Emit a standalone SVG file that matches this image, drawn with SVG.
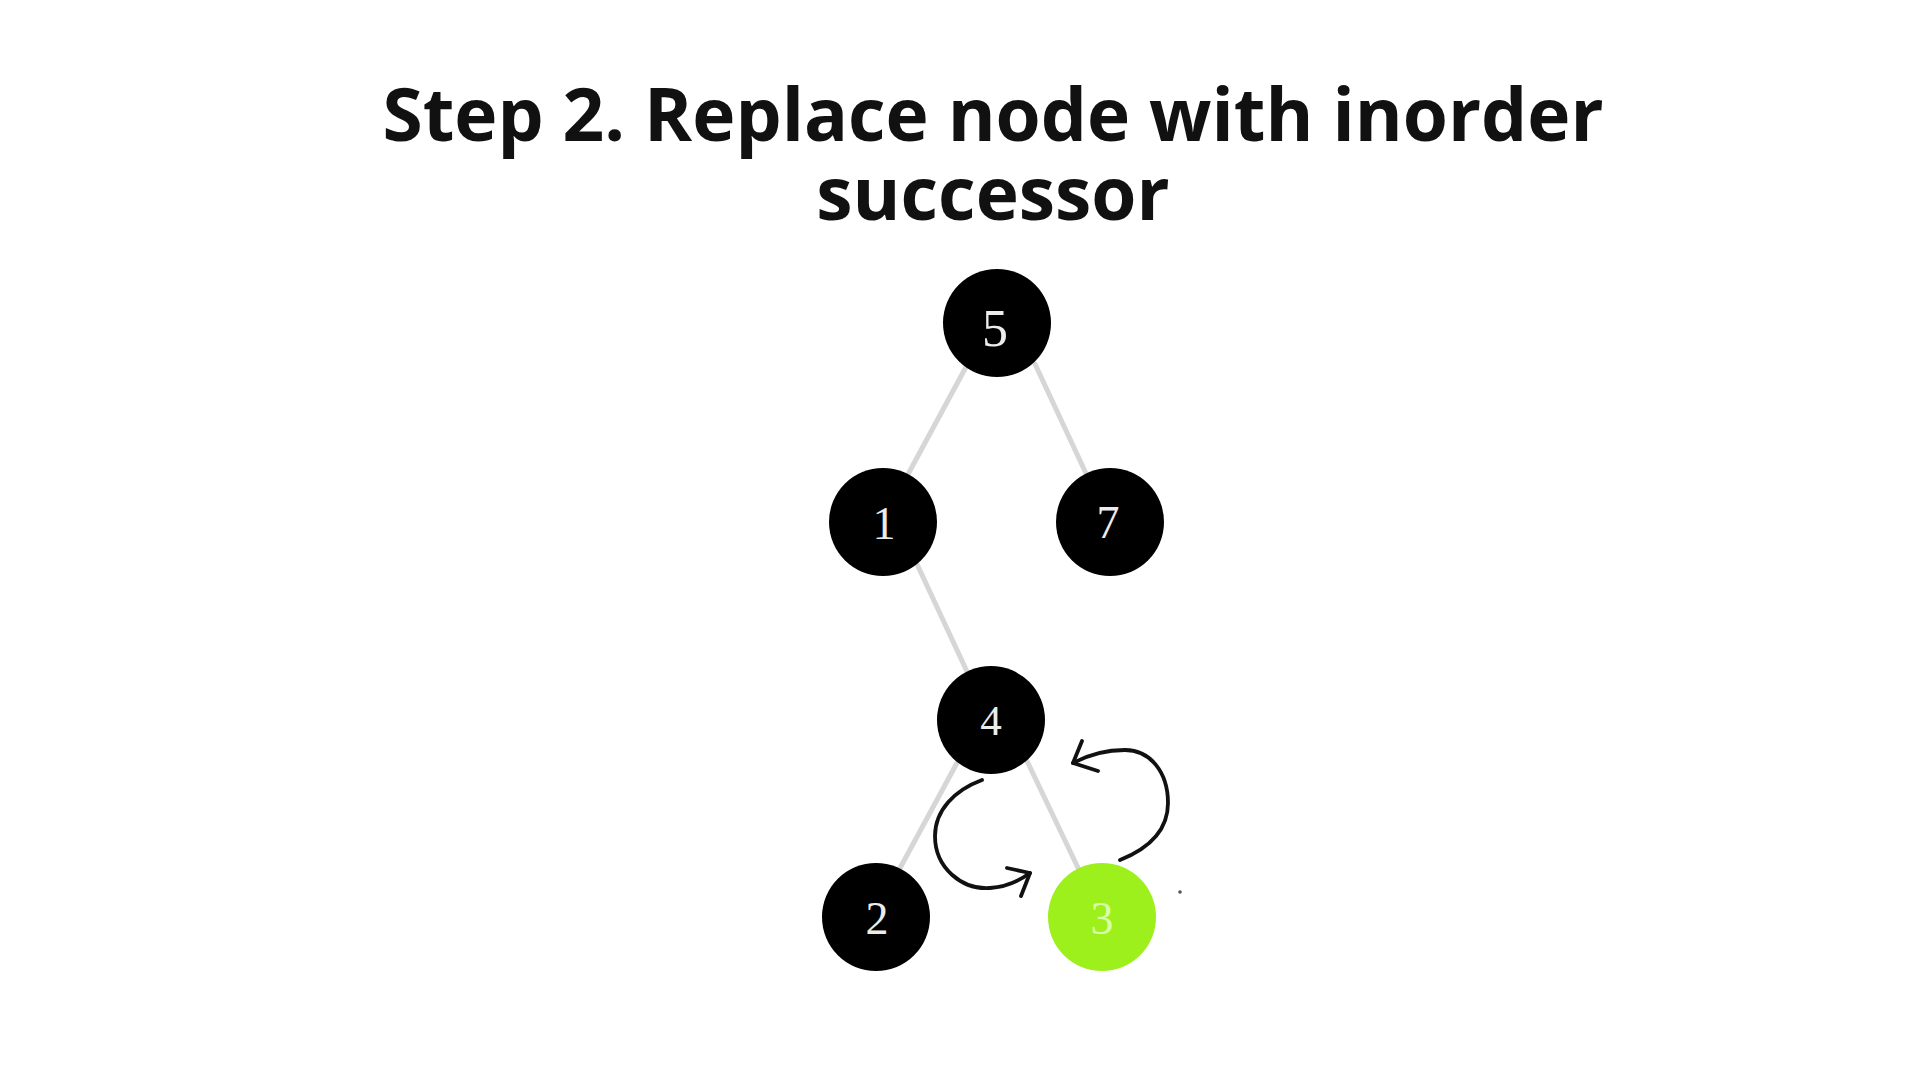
<svg xmlns="http://www.w3.org/2000/svg" width="1920" height="1080" viewBox="0 0 1920 1080">
  <style>
    .title { font-family: "Open Sans", "Liberation Sans", sans-serif; font-weight: 700; font-size: 73px; fill: #111111; text-anchor: middle; }
    .edge { stroke: #d6d6d6; stroke-width: 5; stroke-linecap: round; fill: none; }
    .node { fill: #000000; }
    .node-hl { fill: #9df01c; }
    .label { font-family: "Liberation Serif", "DejaVu Serif", serif; font-size: 46px; fill: #ececec; text-anchor: middle; }
    .label-hl { fill: #d9ffa8; }
    .arrow { stroke: #111111; stroke-width: 3.8; fill: none; stroke-linecap: round; stroke-linejoin: round; }
  </style>
  <rect width="1920" height="1080" fill="#ffffff"/>

  <g id="title">
    <text class="title" x="993" y="141">Step 2. Replace node with inorder</text>
    <text class="title" x="993" y="220">successor</text>
  </g>

  <g id="connectors">
    <line class="edge" x1="966" y1="367" x2="906" y2="478"/>
    <line class="edge" x1="1035" y1="364" x2="1090" y2="482"/>
    <line class="edge" x1="916" y1="562" x2="970" y2="678"/>
    <line class="edge" x1="958" y1="761" x2="899" y2="870"/>
    <line class="edge" x1="1027" y1="761" x2="1080" y2="872"/>
  </g>

  <g id="node-5">
    <circle class="node" cx="997" cy="323" r="54"/>
    <text class="label" x="995" y="346" style="font-size:52px">5</text>
  </g>
  <g id="node-1">
    <circle class="node" cx="883" cy="522" r="54"/>
    <text class="label" x="884" y="539">1</text>
  </g>
  <g id="node-7">
    <circle class="node" cx="1110" cy="522" r="54"/>
    <text class="label" x="1108" y="538">7</text>
  </g>
  <g id="node-4">
    <circle class="node" cx="991" cy="720" r="54"/>
    <text class="label" x="991" y="735" style="font-size:43px">4</text>
  </g>
  <g id="node-2">
    <circle class="node" cx="876" cy="917" r="54"/>
    <text class="label" x="877" y="934">2</text>
  </g>
  <g id="node-3">
    <circle class="node-hl" cx="1102" cy="917" r="54"/>
    <text class="label label-hl" x="1102" y="934">3</text>
  </g>

  <g id="swap-arrows">
    <path class="arrow" d="M 982 780 C 955 790 935 810 935 836 C 935 868 962 890 990 888 C 1005 887 1019 881 1030 873"/>
    <polyline class="arrow" points="1007,868 1030,873 1021,896"/>
    <path class="arrow" d="M 1120 860 C 1150 848 1168 830 1168 803 C 1168 772 1150 750 1125 750 C 1105 750 1088 755 1073 763"/>
    <polyline class="arrow" points="1082,741 1073,763 1098,771"/>
  </g>
  <circle cx="1180" cy="892" r="1.8" fill="#555555"/>
</svg>
